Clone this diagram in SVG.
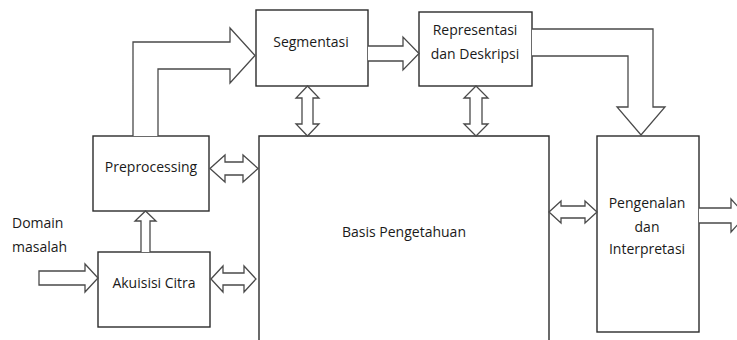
<svg xmlns="http://www.w3.org/2000/svg" width="737" height="340" viewBox="0 0 737 340">
  <style>
    .box { fill: #ffffff; stroke: #2b2b2b; stroke-width: 1.4; }
    .arrow { fill: #ffffff; stroke: #4a4a4a; stroke-width: 1.3; stroke-linejoin: miter; }
    .label { font-family: "Open Sans", "Noto Sans", sans-serif; font-size: 14px; fill: #1a1a1a; text-anchor: middle; }
    .label-left { font-family: "Open Sans", "Noto Sans", sans-serif; font-size: 14px; fill: #1a1a1a; }
  </style>
  <rect width="737" height="340" fill="#ffffff"/>

  <!-- Boxes -->
  <g id="basis-pengetahuan">
    <path class="box" d="M259 345 V136 H549 V345"/>
    <text class="label" x="404" y="237">Basis Pengetahuan</text>
  </g>
  <g id="segmentasi">
    <rect class="box" x="256" y="10" width="112" height="76"/>
    <text class="label" x="311" y="47">Segmentasi</text>
  </g>
  <g id="representasi">
    <rect class="box" x="419" y="12" width="113" height="74"/>
    <text class="label" x="475" y="35">Representasi</text>
    <text class="label" x="475" y="59">dan Deskripsi</text>
  </g>
  <g id="preprocessing">
    <rect class="box" x="93" y="136" width="116" height="75"/>
    <text class="label" x="151" y="172">Preprocessing</text>
  </g>
  <g id="akuisisi-citra">
    <rect class="box" x="98" y="252" width="112" height="75"/>
    <text class="label" x="154" y="288">Akuisisi Citra</text>
  </g>
  <g id="pengenalan">
    <rect class="box" x="597" y="136" width="102" height="196"/>
    <text class="label" x="647" y="208">Pengenalan</text>
    <text class="label" x="647" y="232">dan</text>
    <text class="label" x="647" y="254">Interpretasi</text>
  </g>
  <g id="domain-masalah">
    <text class="label-left" x="12" y="228">Domain</text>
    <text class="label-left" x="12" y="252">masalah</text>
  </g>

  <!-- Block arrows -->
  <g id="connectors">
    <!-- Preprocessing to Segmentasi -->
    <path class="arrow" d="M133 136 V42 H230 V28 L255 55.5 L230 83 V69 H158 V136"/>
    <!-- Segmentasi to Representasi -->
    <path class="arrow" d="M368 46 H403 V37 L419 53.5 L403 70 V61 H368"/>
    <!-- Representasi to Pengenalan -->
    <path class="arrow" d="M532 29 H653 V107 H665 L641 135 L617 107 H628 V56 H532"/>
    <!-- Domain masalah to Akuisisi Citra -->
    <path class="arrow" d="M39 271 H85 V264 L98 278 L85 292 V285 H39 Z"/>
    <!-- Akuisisi Citra to Preprocessing -->
    <path class="arrow" d="M141 252 V221 H135 L145.5 211 L156 221 H150 V252"/>
    <!-- Segmentasi <-> Basis -->
    <path class="arrow" d="M307.5 86 L319 98 H313 V124 H319 L307.5 136 L296 124 H302 V98 H296 Z"/>
    <!-- Representasi <-> Basis -->
    <path class="arrow" d="M476 86 L488 98 H482 V124 H488 L476 136 L464 124 H470 V98 H464 Z"/>
    <!-- Preprocessing <-> Basis -->
    <path class="arrow" d="M210 168.5 L225 155 V162 H243 V155 L258 168.5 L243 182 V175 H225 V182 Z"/>
    <!-- Akuisisi Citra <-> Basis -->
    <path class="arrow" d="M211 279 L223 266 V273 H244 V266 L256 279 L244 292 V285 H223 V292 Z"/>
    <!-- Basis <-> Pengenalan -->
    <path class="arrow" d="M549 212 L561 201 V206 H585 V201 L597 212 L585 223 V218 H561 V223 Z"/>
    <!-- Pengenalan output -->
    <path class="arrow" d="M699 208 H731 V199 L746 215.5 L731 232 V223 H699"/>
  </g>
</svg>
